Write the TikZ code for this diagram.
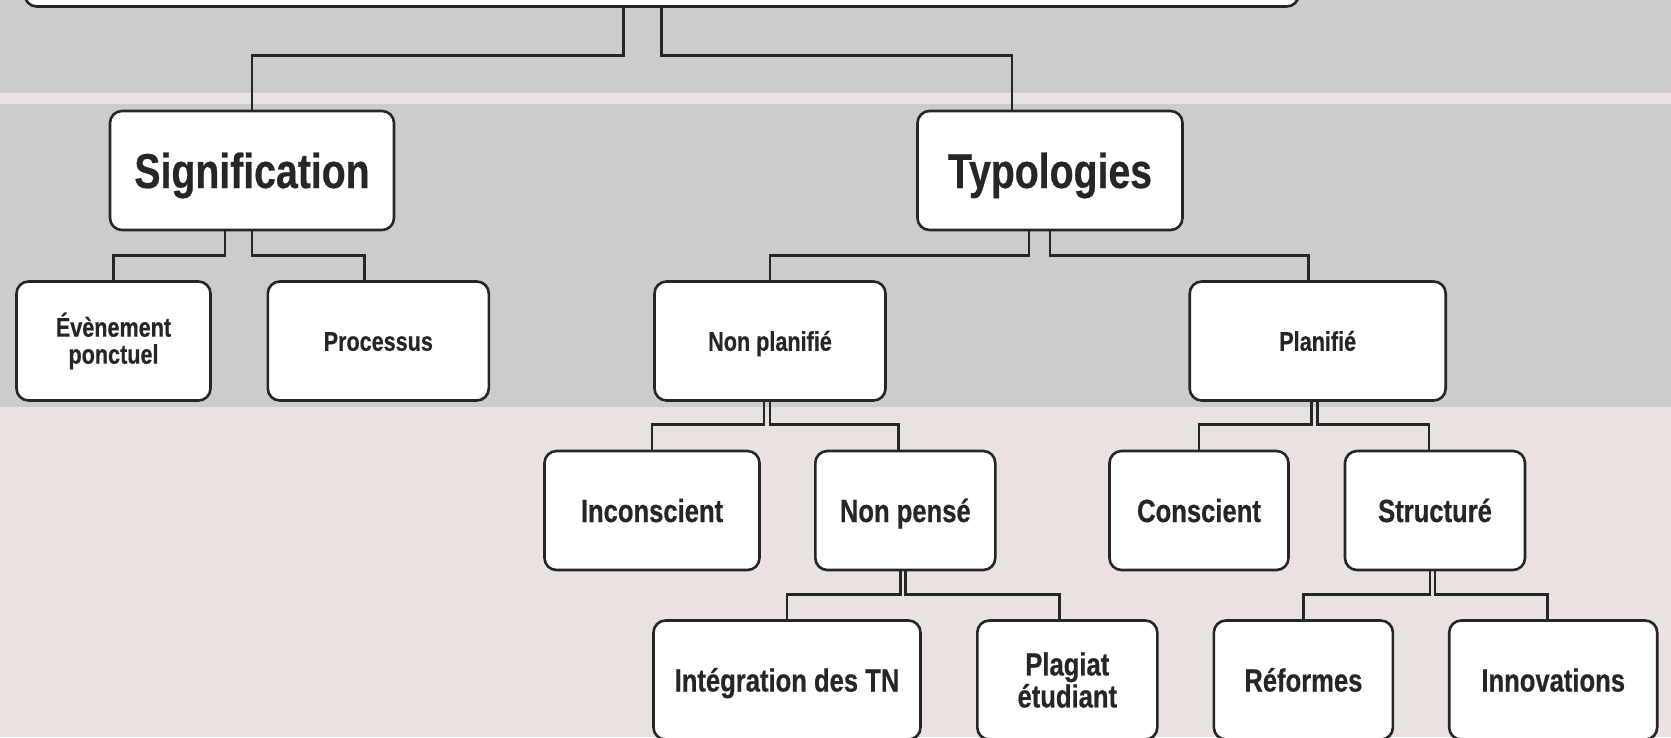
\documentclass[tikz,border=0pt]{standalone}
\usepackage{fontspec}
\setmainfont[FakeStretch=0.8, BoldFeatures={FakeBold=0.5}]{Liberation Sans}
\usepackage{tikz}
\usetikzlibrary{positioning}

\definecolor{bggray}{RGB}{204,204,204}
\definecolor{bgpink}{RGB}{234,225,225}
\definecolor{ink}{RGB}{38,38,38}

\tikzset{
  box/.style={draw=ink, line width=2.6pt, fill=white, rounded corners=12pt,
    minimum height=119pt, align=center, text=ink, inner sep=2pt},
  oneline/.style={text depth=0pt, text height=#1},
  big/.style={box, oneline=35pt, font=\fontsize{49pt}{52pt}\selectfont\bfseries},
  small/.style={box, font=\fontsize{27pt}{27pt}\selectfont\bfseries},
  mid/.style={box, font=\fontsize{32pt}{32pt}\selectfont\bfseries},
  link/.style={draw=ink, line width=2.6pt}
}

\begin{document}
\begin{tikzpicture}[x=1pt,y=-1pt,on grid]
   % bands
   \useasboundingbox (0,0) rectangle (1671,737);
   \clip (0,0) rectangle (1671,737);
   \fill[bggray] (0,0) rectangle (1671,93);
   \fill[bgpink] (0,93) rectangle (1671,104);
   \fill[bggray] (0,104) rectangle (1671,407);
   \fill[bgpink] (0,407) rectangle (1671,737);

   % boxes
   \node[box, minimum width=1274pt, minimum height=128pt] (root) at (661.7,-57.5) {};
   \node[big, minimum width=284pt] (sig) [below left=228pt and 409.7pt of root] {Signification};
   \node[big, minimum width=265pt] (typ) [below right=228pt and 388.3pt of root] {Typologies};
   \node[small, minimum width=194pt] (ev) [below left=170.5pt and 138.5pt of sig] {Évènement\\ponctuel};
   \node[small, oneline=19.5pt, minimum width=221pt] (proc) [below right=170.5pt and 126.3pt of sig] {Processus};
   \node[small, oneline=19.5pt, minimum width=231pt] (np) [below left=170.5pt and 280pt of typ] {Non planifié};
   \node[small, oneline=19.5pt, minimum width=256pt] (pl) [below right=170.5pt and 267.7pt of typ] {Planifié};
   \node[mid, oneline=23pt, minimum width=215pt] (inc) [below left=169.5pt and 118pt of np] {Inconscient};
   \node[mid, oneline=23pt, minimum width=180pt] (npe) [below right=169.5pt and 135.3pt of np] {Non pensé};
   \node[mid, oneline=23pt, minimum width=179pt] (con) [below left=169.5pt and 118.7pt of pl] {Conscient};
   \node[mid, oneline=23pt, minimum width=180pt] (str) [below right=169.5pt and 117.3pt of pl] {Structuré};
   \node[mid, oneline=23pt, minimum width=267pt] (integ) [below left=169.5pt and 118.3pt of npe] {Intégration des TN};
   \node[mid, minimum width=180pt] (plag) [below right=169.5pt and 162pt of npe] {Plagiat\\étudiant};
   \node[mid, oneline=23pt, minimum width=179pt] (ref) [below left=169.5pt and 131.6pt of str] {Réformes};
   \node[mid, oneline=23pt, minimum width=208pt] (inn) [below right=169.5pt and 118.2pt of str] {Innovations};

   % links
   \draw[link] ([xshift=-38pt]root.south) |- ([yshift=54pt]sig.north) -- (sig.north);
   \draw[link] (root.south) |- ([xshift=-38pt,yshift=54pt]typ.north) -- ([xshift=-38pt]typ.north);
   \draw[link] ([xshift=-27pt]sig.south) |- ([yshift=25pt]ev.north) -- (ev.north);
   \draw[link] (sig.south) |- ([xshift=-14pt,yshift=25pt]proc.north) -- ([xshift=-14pt]proc.north);
   \draw[link] ([xshift=-21pt]typ.south) |- ([yshift=25pt]np.north) -- (np.north);
   \draw[link] (typ.south) |- ([xshift=-9pt,yshift=25pt]pl.north) -- ([xshift=-9pt]pl.north);
   \draw[link] ([xshift=-6pt]np.south) |- ([yshift=25pt]inc.north) -- (inc.north);
   \draw[link] (np.south) |- ([xshift=-7pt,yshift=25pt]npe.north) -- ([xshift=-7pt]npe.north);
   \draw[link] ([xshift=-6pt]pl.south) |- ([yshift=25pt]con.north) -- (con.north);
   \draw[link] (pl.south) |- ([xshift=-6pt,yshift=25pt]str.north) -- ([xshift=-6pt]str.north);
   \draw[link] ([xshift=-5pt]npe.south) |- ([yshift=25pt]integ.north) -- (integ.north);
   \draw[link] (npe.south) |- ([xshift=-8pt,yshift=25pt]plag.north) -- ([xshift=-8pt]plag.north);
   \draw[link] ([xshift=-5pt]str.south) |- ([yshift=25pt]ref.north) -- (ref.north);
   \draw[link] (str.south) |- ([xshift=-6pt,yshift=25pt]inn.north) -- ([xshift=-6pt]inn.north);
\end{tikzpicture}
\end{document}
